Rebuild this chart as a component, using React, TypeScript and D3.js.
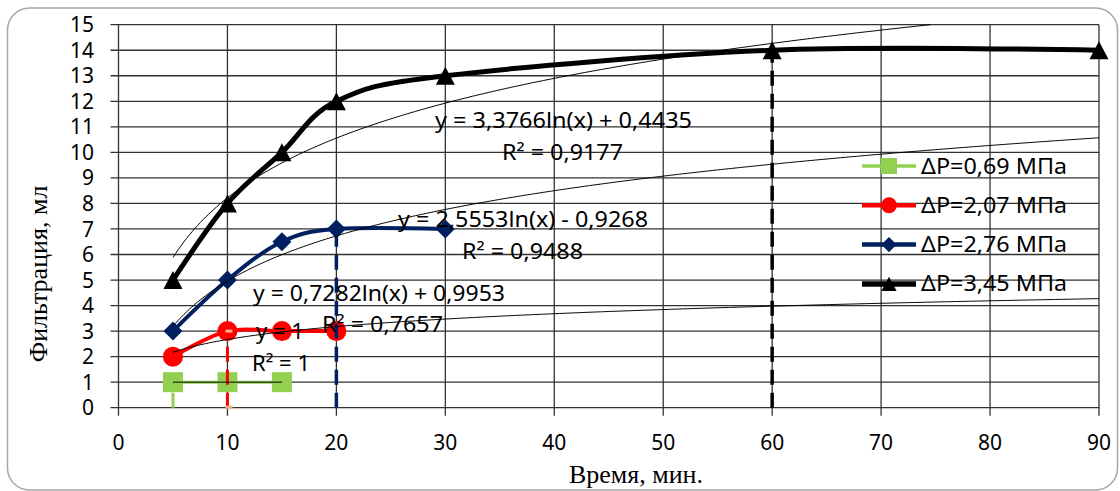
import React from 'react';
import * as d3 from 'd3';

// data
const xTicks = [0, 10, 20, 30, 40, 50, 60, 70, 80, 90];
const yTicks = [0, 1, 2, 3, 4, 5, 6, 7, 8, 9, 10, 11, 12, 13, 14, 15];

const seriesNames = ['ΔP=0,69 МПа', 'ΔP=2,07 МПа', 'ΔP=2,76 МПа', 'ΔP=3,45 МПа'];
const timeGreen = [5, 10, 15];
const volGreen = [1, 1, 1];
const timeRed = [5, 10, 15, 20];
const volRed = [2, 3, 3, 3];
const timeBlue = [5, 10, 15, 20, 30];
const volBlue = [3, 5, 6.5, 7, 7];
const timeBlack = [5, 10, 15, 20, 30, 60, 90];
const volBlack = [5, 8, 10, 12, 13, 14, 14];

// log trendlines y = a*ln(x) + b
const trendA = [0, 0.7282, 2.5553, 3.3766];
const trendB = [1, 0.9953, -0.9268, 0.4435];
const trendFrom = [5, 5, 5, 5];
const trendTo = [15, 90, 90, 90];

// vertical drop lines
const dropX = [5, 10, 20, 60];
const dropY = [1, 3, 7, 14];

const colors = ['#92D050', '#FF0000', '#002060', '#000000'];
const lineWidths = [3, 4, 4, 5];

const trendLabels = [
  { t: 'y = 3,3766ln(x) + 0,4435', x: 435, y: 128, w: 257 },
  { t: 'R² = 0,9177', x: 502, y: 160, w: 121 },
  { t: 'y = 2,5553ln(x) - 0,9268', x: 398, y: 227, w: 250 },
  { t: 'R² = 0,9488', x: 462, y: 259, w: 121 },
  { t: 'y = 0,7282ln(x) + 0,9953', x: 253, y: 301, w: 252 },
  { t: 'R² = 0,7657', x: 322, y: 332, w: 121 },
  { t: 'y = 1', x: 256, y: 339, w: 48 },
  { t: 'R² = 1', x: 252, y: 371, w: 58 },
];

const sansFont = "'Noto Sans', 'Open Sans', sans-serif";
const serifFont = "'Liberation Serif', 'DejaVu Serif', serif";

const Marker = ({ kind, cx, cy, color, s = 1 }) => {
  if (kind === 0) {
    const h = 10 * s;
    return <rect x={cx - h} y={cy - h} width={2 * h} height={2 * h} fill={color} />;
  }
  if (kind === 1) return <circle cx={cx} cy={cy} r={10 * s} fill={color} />;
  if (kind === 2) {
    const h = 9.5 * s;
    return <path d={`M${cx},${cy - h}L${cx + h},${cy}L${cx},${cy + h}L${cx - h},${cy}Z`} fill={color} />;
  }
  const w = 9.5 * s, h = 9 * s;
  return <path d={`M${cx},${cy - h}L${cx + w},${cy + h}L${cx - w},${cy + h}Z`} fill={color} />;
};

export default function App() {
  const width = 1120;
  const height = 491;
  const x = d3.scaleLinear().domain([0, 90]).range([118.5, 1099]);
  const y = d3.scaleLinear().domain([0, 15]).range([407.7, 24.7]);

  const allTimes = [timeGreen, timeRed, timeBlue, timeBlack];
  const allVols = [volGreen, volRed, volBlue, volBlack];

  // excel-like smoothing
  const line = d3
    .line<number[]>()
    .x((d) => x(d[0]))
    .y((d) => y(d[1]))
    .curve(d3.curveCardinal.tension(0));

  const trendLine = d3
    .line<number[]>()
    .x((d) => x(d[0]))
    .y((d) => y(d[1]));

  const trendPaths = trendA.map((a, i) => {
    const pts = [];
    const end = trendTo[i];
    for (let t = trendFrom[i]; t <= end + 1e-9; t += 0.25) {
      const v = a * Math.log(t) + trendB[i];
      if (v > 15) break;
      pts.push([t, v]);
    }
    if (a > 0) {
      const last = pts[pts.length - 1];
      const tEnd = Math.exp((15 - trendB[i]) / a);
      if (tEnd < end && last[0] < tEnd) pts.push([tEnd, 15]);
    }
    return trendLine(pts);
  });

  const grid = '#333';

  return (
    <svg width={width} height={height} style={{ position: 'absolute', left: 0, top: 0 }}>
      <rect x={0} y={0} width={width} height={height} fill="#fff" />
      <rect x={7.5} y={8} width={1110} height={482} rx={22} fill="#fff" stroke="#a6a6a6" strokeWidth={1.5} />

      {/* grid */}
      <g stroke={grid} strokeWidth={1.3}>
        {yTicks.map((t) => (
          <line key={'h' + t} x1={x(0) - 8} x2={x(90)} y1={y(t)} y2={y(t)} />
        ))}
        {xTicks.map((t) => (
          <line key={'v' + t} x1={x(t)} x2={x(t)} y1={y(15)} y2={y(0) + 8} />
        ))}
      </g>

      {/* tick labels */}
      <g fontFamily={sansFont} fontSize={21} fill="#000">
        {yTicks.map((t) => (
          <text key={'yl' + t} x={94} y={y(t)} dy="0.36em" textAnchor="end">
            {t}
          </text>
        ))}
        {xTicks.map((t) => (
          <text key={'xl' + t} x={x(t)} y={450} textAnchor="middle">
            {t}
          </text>
        ))}
      </g>

      {/* series */}
      {allTimes.map((ts, i) => {
        const pts = ts.map((t, j) => [t, allVols[i][j]]);
        return (
          <g key={'s' + i}>
            <path d={line(pts)} fill="none" stroke={colors[i]} strokeWidth={lineWidths[i]} strokeLinejoin="round" />
            {pts.map((p, j) => (
              <Marker key={j} kind={i} cx={x(p[0])} cy={y(p[1])} color={colors[i]} />
            ))}
          </g>
        );
      })}

      {/* drop lines */}
      {dropX.map((dx, i) => (
        <line
          key={'d' + i}
          x1={x(dx)}
          x2={x(dx)}
          y1={y(0)}
          y2={y(dropY[i])}
          stroke={colors[i]}
          strokeWidth={i >= 2 ? 3.5 : 3}
          strokeDasharray="15 8"
        />
      ))}
      <g fill="#f4b183">
        <rect x={x(dropX[1]) - 2} y={y(dropY[1]) - 1.5} width={7} height={3} />
        <rect x={x(dropX[1]) - 2} y={y(0) - 2} width={7} height={3} />
      </g>

      {/* trendlines */}
      {trendPaths.map((d, i) => (
        <path key={'t' + i} d={d} fill="none" stroke="#000" strokeWidth={1} />
      ))}

      {/* trend labels */}
      <g fontFamily={sansFont} fontSize={21} fill="#000">
        {trendLabels.map((l, i) => (
          <text key={'tl' + i} x={l.x} y={l.y} textLength={l.w} lengthAdjust="spacingAndGlyphs">
            {l.t}
          </text>
        ))}
      </g>

      {/* legend */}
      <g>
        {seriesNames.map((n, i) => {
          const cy = 166 + i * 39.3;
          return (
            <g key={'lg' + i}>
              <line x1={862} x2={916} y1={cy} y2={cy} stroke={colors[i]} strokeWidth={lineWidths[i] + 0.5} />
              <Marker kind={i} cx={889} cy={cy} color={colors[i]} s={0.8} />
              <text
                x={921}
                y={cy + 7.5}
                fontFamily={sansFont}
                fontSize={21}
                textLength={146}
                lengthAdjust="spacingAndGlyphs"
              >
                {n}
              </text>
            </g>
          );
        })}
      </g>

      {/* axis titles */}
      <text x={636} y={483} textAnchor="middle" fontFamily={serifFont} fontSize={26}>
        Время, мин.
      </text>
      <text
        transform="translate(47,274) rotate(-90)"
        textAnchor="middle"
        fontFamily={serifFont}
        fontSize={26}
      >
        Фильтрация, мл
      </text>
    </svg>
  );
}
